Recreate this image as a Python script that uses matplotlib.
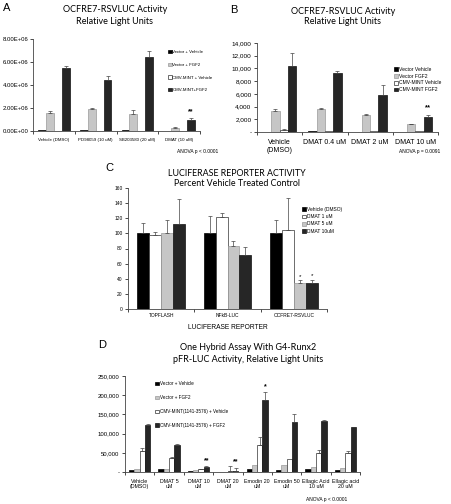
import matplotlib
matplotlib.use("Agg")
import matplotlib.pyplot as plt
import numpy as np
from matplotlib.ticker import FuncFormatter

W, H = 451, 504
fig = plt.figure(figsize=(W/100, H/100), dpi=100)
plt.rcParams['font.family'] = ['Liberation Sans', 'DejaVu Sans']

TITLE_FONT = ['Lato', 'DejaVu Sans']
TFS = 6.5

# ---------------- data ----------------
# Panel A
a_groups = ["Vehicle (DMSO)", "PD98059 (10 uM)", "SB203580 (20 uM)", "DMAT (10 uM)"]
a_labels = ["Vector + Vehicle", "Vector + FGF2", "CMV-MINT + Vehicle", "CMV-MINT+FGF2"]
a_vals = [[0.05e6, 0.06e6, 0.05e6, 0.04e6],
          [1.6e6, 1.95e6, 1.45e6, 0.25e6],
          [0.03e6, 0.03e6, 0.03e6, 0.02e6],
          [5.5e6, 4.45e6, 6.45e6, 1.0e6]]
a_errs = [[0.0, 0.0, 0.0, 0.0],
          [0.15e6, 0.08e6, 0.35e6, 0.08e6],
          [0.0, 0.0, 0.0, 0.0],
          [0.18e6, 0.35e6, 0.5e6, 0.1e6]]

# Panel B
b_groups = ["Vehicle\n(DMSO)", "DMAT 0.4 uM", "DMAT 2 uM", "DMAT 10 uM"]
b_labels = ["Vector Vehicle", "Vector FGF2", "CMV-MINT Vehicle", "CMV-MINT FGF2"]
b_vals = [[60, 90, 60, 60],
          [3250, 3550, 2750, 1200],
          [250, 200, 200, 200],
          [10400, 9250, 5750, 2350]]
b_errs = [[0, 0, 0, 0],
          [350, 300, 150, 100],
          [150, 0, 0, 0],
          [2000, 400, 1600, 400]]

# Panel C
c_groups = ["TOPFLASH", "NFkB-LUC", "OCFRE7-RSVLUC"]
c_labels = ["Vehicle (DMSO)", "DMAT 1 uM", "DMAT 5 uM", "DMAT 10uM"]
c_vals = [[100, 100, 100],
          [97.5, 121, 105],
          [100, 83, 34],
          [112, 71, 35]]
c_errs = [[14, 23, 18],
          [4, 6, 42],
          [18, 7, 4],
          [34, 11, 4]]

# Panel D
d_groups = ["Vehicle\n(DMSO)", "DMAT 5\nuM", "DMAT 10\nuM", "DMAT 20\nuM", "Emodin 20\nuM",
            "Emodin 50\nuM", "Ellagic Acid\n10 uM", "Ellagic acid\n20 uM"]
d_labels = ["Vector + Vehicle", "Vector + FGF2", "CMV-MINT(1141-3576) + Vehicle",
            "CMV-MINT(1141-3576) + FGF2"]
d_vals = [[5000, 7000, 3000, 1000, 7000, 4500, 9000, 4500],
          [8000, 7000, 5000, 1000, 17500, 19000, 12000, 9500],
          [55000, 37000, 8000, 2000, 69500, 33000, 50500, 49500],
          [122000, 71000, 14000, 3500, 187000, 130000, 132000, 117500]]
d_errs = [[0, 0, 0, 0, 0, 0, 0, 0],
          [0, 0, 0, 0, 0, 0, 0, 0],
          [7000, 2000, 1000, 14000, 22000, 0, 8000, 4000],
          [3000, 1000, 2000, 8000, 21000, 22000, 4000, 0]]

# ---------------- styles ----------------
BLACK = dict(fc='#000000', ec='#000000')
GRAY = dict(fc='#c6c6c6', ec='#9a9a9a')
WHITE = dict(fc='#ffffff', ec='#333333')
DARK = dict(fc='#262626', ec='#111111')


def rect(x0, y0, x1, y1):
    return [x0 / W, 1 - y1 / H, (x1 - x0) / W, (y1 - y0) / H]


def bars(ax, vals, errs, styles, labels, width=0.185):
    n = len(vals)
    ng = len(vals[0])
    x = np.arange(ng)
    handles = []
    for i in range(n):
        off = (i - (n - 1) / 2) * width
        h = ax.bar(x + off, vals[i], width, lw=0.5, label=labels[i], **styles[i])
        handles.append(h)
        e = np.array(errs[i])
        mask = e > 0
        if mask.any():
            ax.errorbar((x + off)[mask], np.array(vals[i])[mask],
                        yerr=[np.zeros(mask.sum()), e[mask]], fmt='none',
                        ecolor='#444444', elinewidth=0.5, capsize=1.2, capthick=0.5)
    ax.set_xlim(-0.5, ng - 0.5)
    ax.set_xticks(x)
    ax.set_xticks(np.arange(ng + 1) - 0.5, minor=True)
    ax.tick_params(axis='x', which='major', length=0)
    ax.tick_params(axis='x', which='minor', length=2, width=0.5, direction='out')
    ax.tick_params(axis='y', length=2, width=0.5, direction='out')
    for s in ['top', 'right']:
        ax.spines[s].set_visible(False)
    for s in ['left', 'bottom']:
        ax.spines[s].set_linewidth(0.6)
        ax.spines[s].set_color('#444444')
    return x, handles


def legend(ax, handles, labels, xpx, ypx, fs, spacing):
    ax.legend(handles, labels, loc='upper left', bbox_to_anchor=(xpx / W, 1 - ypx / H),
              bbox_transform=fig.transFigure, frameon=False, fontsize=fs,
              handlelength=0.8, handleheight=0.8, handletextpad=0.2,
              labelspacing=spacing, borderpad=0, borderaxespad=0)


styles4 = [BLACK, GRAY, WHITE, DARK]

# ---------------- Panel A ----------------
axA = fig.add_axes(rect(33, 39, 200, 131))
x, hA = bars(axA, a_vals, a_errs, styles4, a_labels, width=0.19)
axA.set_ylim(0, 8e6)
axA.set_yticks(np.arange(0, 8.01e6, 2e6))
axA.yaxis.set_major_formatter(FuncFormatter(lambda v, p: f"{v:.2E}"))
axA.tick_params(axis='y', labelsize=4.3, pad=1)
axA.set_xticklabels(a_groups, fontsize=3.2)
axA.tick_params(axis='x', which='major', pad=5)
gi = 3
axA.text(x[gi] + 1.5 * 0.19, a_vals[3][gi] + a_errs[3][gi] + 0.25e6, "**",
         ha='center', va='bottom', fontsize=5, fontweight='bold')
legend(axA, hA, a_labels, 168, 50, 3.2, 1.9)
fig.text(218 / W, 1 - 151 / H, "ANOVA p < 0.0001", ha='right', va='center', fontsize=3.5)
fig.text(3 / W, 1 - 8 / H, "A", ha='left', va='center', fontsize=8)
fig.text(115 / W, 1 - 10 / H, "OCFRE7-RSVLUC Activity", ha='center', va='center',
         fontsize=TFS, family=TITLE_FONT)
fig.text(115 / W, 1 - 22 / H, "Relative Light Units", ha='center', va='center',
         fontsize=TFS, family=TITLE_FONT)

# ---------------- Panel B ----------------
axB = fig.add_axes(rect(257, 43, 438, 132))
x, hB = bars(axB, b_vals, b_errs, styles4, b_labels, width=0.185)
axB.set_ylim(0, 14000)
axB.set_yticks(np.arange(0, 14001, 2000))
axB.yaxis.set_major_formatter(FuncFormatter(lambda v, p: "-" if v == 0 else f"{int(v):,}"))
axB.tick_params(axis='y', labelsize=4.6, pad=2)
axB.set_xticklabels(b_groups, fontsize=5)
axB.tick_params(axis='x', which='major', pad=5)
axB.text(x[3] + 1.5 * 0.185, b_vals[3][3] + b_errs[3][3] + 500, "**",
         ha='center', va='bottom', fontsize=5.5, fontweight='bold')
legend(axB, hB, b_labels, 394, 67, 3.6, 0.35)
fig.text(440 / W, 1 - 152 / H, "ANOVA p = 0.0091", ha='right', va='center', fontsize=3.5)
fig.text(230 / W, 1 - 10 / H, "B", ha='left', va='center', fontsize=8)
fig.text(343 / W, 1 - 11 / H, "OCFRE7-RSVLUC Activity", ha='center', va='center',
         fontsize=TFS, family=TITLE_FONT)
fig.text(343 / W, 1 - 22 / H, "Relative Light Units", ha='center', va='center',
         fontsize=TFS, family=TITLE_FONT)

# ---------------- Panel C ----------------
axC = fig.add_axes(rect(128, 188, 327, 309))
stylesC = [BLACK, WHITE, GRAY, DARK]
x, hC = bars(axC, c_vals, c_errs, stylesC, c_labels, width=0.18)
axC.set_ylim(0, 160)
axC.set_yticks(np.arange(0, 161, 20))
axC.tick_params(axis='y', labelsize=3.5, pad=2)
axC.set_xticklabels(c_groups, fontsize=3.5)
axC.tick_params(axis='x', which='major', pad=3)
for i in (2, 3):
    off = (i - 1.5) * 0.18
    axC.text(x[2] + off, c_vals[i][2] + c_errs[i][2] + 2, "*", ha='center', va='bottom',
             fontsize=4.5)
axC.set_xlabel("LUCIFERASE REPORTER", fontsize=4.8, labelpad=4)
legend(axC, hC, c_labels, 302, 207, 3.5, 0.45)
fig.text(105 / W, 1 - 168 / H, "C", ha='left', va='center', fontsize=8)
fig.text(237 / W, 1 - 173 / H, "LUCIFERASE REPORTER ACTIVITY", ha='center', va='center',
         fontsize=6.4, family=TITLE_FONT)
fig.text(237 / W, 1 - 184 / H, "Percent Vehicle Treated Control", ha='center', va='center',
         fontsize=6.4, family=TITLE_FONT)

# ---------------- Panel D ----------------
axD = fig.add_axes(rect(125, 376, 360, 472))
x, hD = bars(axD, d_vals, d_errs, styles4, d_labels, width=0.18)
axD.set_ylim(0, 250000)
axD.set_yticks(np.arange(0, 250001, 50000))
axD.yaxis.set_major_formatter(FuncFormatter(lambda v, p: "-" if v == 0 else f"{int(v):,}"))
axD.tick_params(axis='y', labelsize=4.3, pad=2)
axD.set_xticklabels(d_groups, fontsize=3.8, linespacing=1.1)
axD.tick_params(axis='x', which='major', pad=5)
for gi_, mark in [(2, "**"), (3, "**"), (4, "*")]:
    top = d_vals[3][gi_] + d_errs[3][gi_]
    axD.text(x[gi_] + 1.5 * 0.18, top + 5000, mark, ha='center', va='bottom',
             fontsize=5, fontweight='bold')
legend(axD, hD, d_labels, 155, 381, 3.3, 1.95)
fig.text(327 / W, 1 - 500 / H, "ANOVA p < 0.0001", ha='center', va='center', fontsize=3.5)
fig.text(98 / W, 1 - 345 / H, "D", ha='left', va='center', fontsize=8)
fig.text(248 / W, 1 - 348 / H, "One Hybrid Assay With G4-Runx2", ha='center', va='center',
         fontsize=TFS, family=TITLE_FONT)
fig.text(248 / W, 1 - 360 / H, "pFR-LUC Activity, Relative Light Units", ha='center',
         va='center', fontsize=TFS, family=TITLE_FONT)

fig.savefig("out.png", dpi=100)
